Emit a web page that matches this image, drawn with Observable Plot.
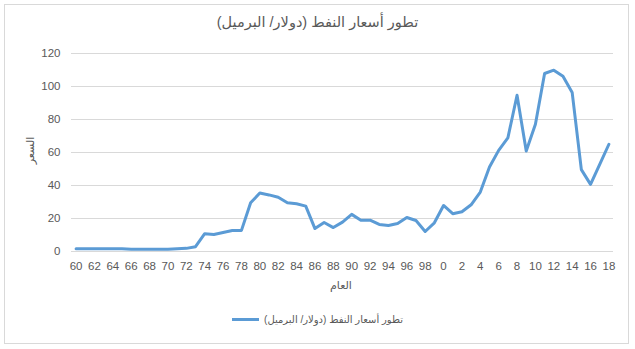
<!DOCTYPE html>
<html><head><meta charset="utf-8">
<script src="https://cdn.jsdelivr.net/npm/d3@7"></script>
<script src="https://cdn.jsdelivr.net/npm/@observablehq/plot@0.6"></script>
<style>
body{margin:0;background:#fff;font-family:"Liberation Sans","DejaVu Sans",sans-serif;}
#wrap{position:relative;width:635px;height:349px;}
#frame{position:absolute;left:4px;top:4px;width:623px;height:338px;border:1px solid #d9d9d9;box-sizing:content-box;pointer-events:none;}
.t{position:absolute;color:#595959;white-space:nowrap;}
</style></head>
<body>
<div id="wrap">
<div id="frame"></div>
</div>
<script>
const years = [1960,1961,1962,1963,1964,1965,1966,1967,1968,1969,1970,1971,1972,1973,1974,1975,1976,1977,1978,1979,1980,1981,1982,1983,1984,1985,1986,1987,1988,1989,1990,1991,1992,1993,1994,1995,1996,1997,1998,1999,2000,2001,2002,2003,2004,2005,2006,2007,2008,2009,2010,2011,2012,2013,2014,2015,2016,2017,2018];
const prices = [1.7,1.7,1.7,1.7,1.7,1.6,1.3,1.3,1.3,1.3,1.3,1.6,1.9,2.9,10.8,10.3,11.5,12.7,12.8,29.5,35.4,34.3,32.9,29.5,28.9,27.5,13.9,17.6,14.5,17.8,22.5,18.9,19.0,16.4,15.8,17.0,20.6,18.8,12.1,17.4,27.9,22.9,24.1,28.3,36.0,51.2,61.3,68.8,94.7,60.9,77.1,107.9,109.9,106.2,96.4,49.6,40.7,52.8,65.0];
const tickYears = [1960,1962,1964,1966,1968,1970,1972,1974,1976,1978,1980,1982,1984,1986,1988,1990,1992,1994,1996,1998,2000,2002,2004,2006,2008,2010,2012,2014,2016,2018];
const tickLabels = ["60","62","64","66","68","70","72","74","76","78","80","82","84","86","88","90","92","94","96","98","0","2","4","6","8","10","12","14","16","18"];
const yTicks = [0,20,40,60,80,100,120];
const title = "تطور أسعار النفط (دولار/ البرميل)";
const xLabel = "العام";
const yLabel = "السعر";

const data = years.map((y,i)=>({year:y, price:prices[i]}));
const fmt = y => tickLabels[tickYears.indexOf(y)];

const chart = Plot.plot({
  width:635, height:349,
  marginTop:53, marginBottom:98, marginLeft:71, marginRight:22,
  style:{fontFamily:'"Liberation Sans","DejaVu Sans",sans-serif', fontSize:"11.5px", color:"#595959", background:"transparent"},
  x:{type:"point", domain:years, padding:0.5, round:false, axis:null},
  y:{domain:[0,120], axis:null},
  marks:[
    Plot.gridY(yTicks,{stroke:"#d9d9d9", strokeOpacity:1, strokeWidth:1}),
    Plot.axisY(yTicks,{tickSize:0, tickPadding:11, label:null, fill:"#595959"}),
    Plot.axisX(tickYears,{tickSize:0, tickPadding:10, label:null, tickFormat:fmt, fill:"#595959"}),
    Plot.line(data,{x:"year", y:"price", stroke:"#5b9bd5", strokeWidth:3, strokeLinejoin:"round", strokeLinecap:"round"})
  ]
});
chart.style.position="absolute"; chart.style.left="0"; chart.style.top="0";
const wrap = document.getElementById("wrap");
wrap.insertBefore(chart, wrap.firstChild);

function addText(txt, css){
  const d=document.createElement("div"); d.className="t"; d.textContent=txt; d.dir="rtl";
  Object.assign(d.style, css); wrap.appendChild(d); return d;
}
addText(title,{left:"0",width:"635px",textAlign:"center",top:"14px",fontSize:"14.5px"});
addText(xLabel,{left:"321px",width:"40px",textAlign:"center",top:"279px",fontSize:"11px"});
addText(yLabel,{left:"10px",width:"40px",textAlign:"center",top:"144px",fontSize:"11px",transform:"rotate(-90deg)"});
// legend
const lg=document.createElement("div");
lg.style.cssText="position:absolute;left:0;width:635px;top:314px;display:flex;justify-content:center;align-items:center;";
const sw=document.createElement("span");
sw.style.cssText="display:inline-block;width:27px;height:3px;background:#5b9bd5;margin-right:5px;";
const lt=document.createElement("span");
lt.textContent=title; lt.dir="rtl";
lt.style.cssText="font-size:10px;color:#595959;";
lg.appendChild(sw); lg.appendChild(lt); wrap.appendChild(lg);
</script>
</body></html>
